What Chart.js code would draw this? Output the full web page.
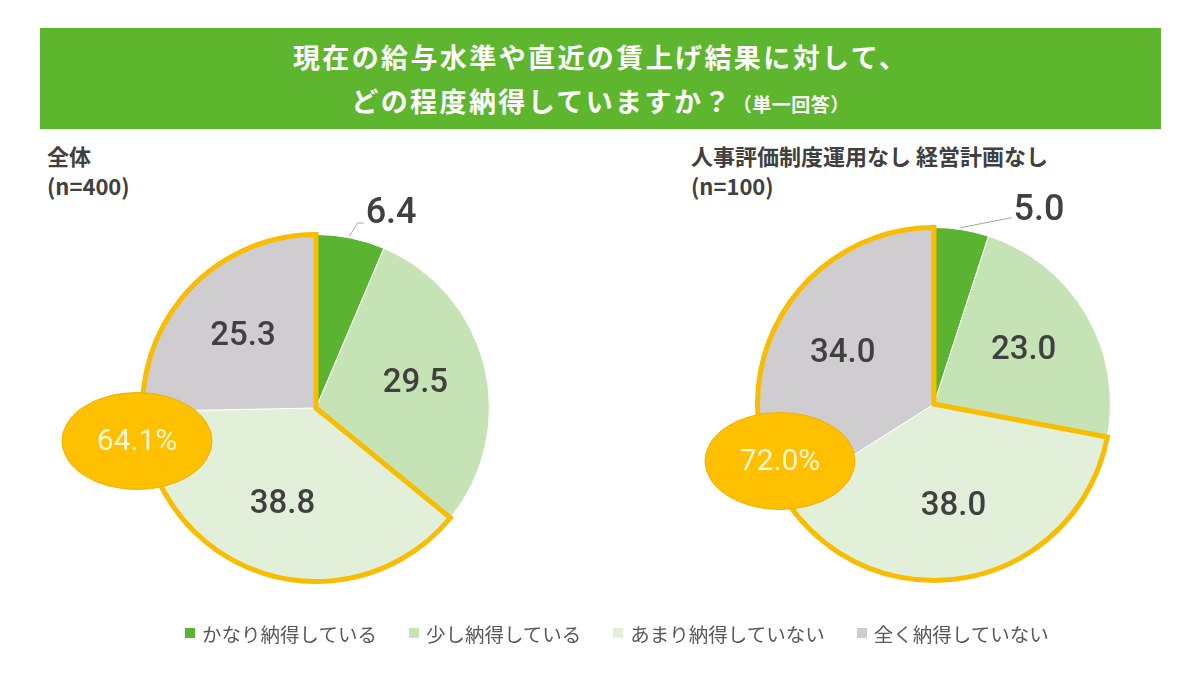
<!DOCTYPE html>
<html>
<head>
<meta charset="utf-8">
<script src="https://cdn.jsdelivr.net/npm/chart.js@4.4.1/dist/chart.umd.min.js"></script>
<style>
  html, body { margin: 0; padding: 0; }
  body { width: 1200px; height: 675px; background: #ffffff; position: relative; overflow: hidden;
         font-family: "Noto Sans CJK JP", "Noto Sans", sans-serif; }
  #banner { position: absolute; left: 40px; top: 28px; width: 1121px; height: 101px; background: #5DB62E;
            color: #ffffff; font-weight: bold; text-align: center; }
  #banner .l1 { position: absolute; left: 0; right: 0; top: 28px; line-height: 1; font-size: 27px; letter-spacing: 2.4px; transform: translateY(-50%); }
  #banner .l2 { position: absolute; left: 0; right: 0; top: 72px; line-height: 1; font-size: 27px; letter-spacing: 2.4px; transform: translateY(-50%); }
  #banner .small { font-size: 19px; letter-spacing: 0.5px; }
  .sub { position: absolute; top: 140px; color: #404040; font-size: 22px; font-weight: bold; line-height: 30px; white-space: nowrap; }
  canvas { position: absolute; left: 0; top: 0; }
  #legend { position: absolute; left: 185px; top: 620px; height: 26px; display: flex; align-items: center;
            font-size: 19.5px; color: #595959; white-space: nowrap; }
  #legend .item { display: flex; align-items: center; margin-right: 32px; }
  #legend .sw { width: 10px; height: 10px; margin-right: 7px; }
</style>
</head>
<body>
<div id="banner">
  <div class="l1">現在の給与水準や直近の賃上げ結果に対して、</div>
  <div class="l2">どの程度納得していますか？<span class="small">（単一回答）</span></div>
</div>
<div class="sub" id="sub1" style="left:47px;"></div>
<div class="sub" id="sub2" style="left:691px;"></div>
<canvas id="c1" width="1200" height="675"></canvas>
<canvas id="c2" width="1200" height="675"></canvas>
<div id="legend"></div>
<script>
// ---- data ----
const categories = ['かなり納得している', '少し納得している', 'あまり納得していない', '全く納得していない'];
const valuesAll = [6.4, 29.5, 38.8, 25.3];
const valuesNoSystem = [5.0, 23.0, 38.0, 34.0];
const groupTitles = ['全体', '人事評価制度運用なし 経営計画なし'];
const groupSizes = ['(n=400)', '(n=100)'];
const highlightIdx = [2, 3];  // slices grouped by the orange outline

// ---- styles ----
const sliceColors = ['#5BB431', '#C5E3B4', '#E2F0D9', '#CFCDCF'];
const outlineColor = '#F8BC00';
const textColor = '#404040';

document.getElementById('sub1').innerHTML = groupTitles[0] + '<br>' + groupSizes[0];
document.getElementById('sub2').innerHTML = groupTitles[1] + '<br>' + groupSizes[1];

const legend = document.getElementById('legend');
categories.forEach((c, i) => {
  const it = document.createElement('div');
  it.className = 'item';
  const sw = document.createElement('span');
  sw.className = 'sw';
  sw.style.background = sliceColors[i];
  const tx = document.createElement('span');
  tx.textContent = c;
  it.appendChild(sw); it.appendChild(tx);
  legend.appendChild(it);
});

const overlayPlugin = {
  id: 'overlay',
  afterDatasetsDraw(chart, args, opts) {
    const ctx = chart.ctx;
    const meta = chart.getDatasetMeta(0);
    const arcs = meta.data;
    const data = chart.data.datasets[0].data;
    const first = arcs[highlightIdx[0]];
    const last = arcs[highlightIdx[highlightIdx.length - 1]];
    const p = first.getProps(['x', 'y', 'outerRadius'], true);
    const cx = p.x, cy = p.y, r = p.outerRadius;

    ctx.save();
    // orange outline around the "not satisfied" group
    ctx.beginPath();
    ctx.moveTo(cx, cy);
    ctx.arc(cx, cy, r, first.startAngle, last.endAngle);
    ctx.closePath();
    ctx.lineWidth = 5;
    ctx.lineJoin = 'miter';
    ctx.strokeStyle = outlineColor;
    ctx.stroke();

    // value labels
    arcs.forEach((arc, i) => {
      const v = data[i];
      const mid = (arc.startAngle + arc.endAngle) / 2;
      const txt = v.toFixed(1);
      if (v < 8) {
        const ax = cx + Math.cos(mid) * r;
        const ay = cy + Math.sin(mid) * r;
        const ex = ax + opts.lead.dx, ey = ay + opts.lead.dy;
        ctx.beginPath();
        ctx.moveTo(ax - 1, ay - 2);
        ctx.lineTo(ex, ey);
        ctx.lineTo(ex + opts.lead.h, ey);
        ctx.lineWidth = 1;
        ctx.strokeStyle = '#A6A6A6';
        ctx.stroke();
        ctx.fillStyle = textColor;
        ctx.font = '500 36px Roboto';
        ctx.textAlign = 'left';
        ctx.textBaseline = 'alphabetic';
        ctx.fillText(txt, ex + opts.lead.h + 2, ey + opts.lead.ty);
      } else {
        const lr = r * 0.59;
        ctx.fillStyle = textColor;
        ctx.font = '500 33px Roboto';
        ctx.textAlign = 'center';
        ctx.textBaseline = 'middle';
        ctx.fillText(txt, cx + Math.cos(mid) * lr, cy + Math.sin(mid) * lr);
      }
    });

    // ellipse badge with the combined share
    const total = highlightIdx.reduce((s, k) => s + data[k], 0);
    const ex = cx + opts.badge.dx, ey = cy + opts.badge.dy;
    ctx.beginPath();
    ctx.ellipse(ex, ey, 75, 48.5, 0, 0, Math.PI * 2);
    ctx.fillStyle = '#FFC000';
    ctx.fill();
    ctx.lineWidth = 1;
    ctx.strokeStyle = '#ECB000';
    ctx.stroke();
    ctx.fillStyle = '#FFF6D8';
    ctx.font = '400 30px Roboto';
    ctx.textAlign = 'center';
    ctx.textBaseline = 'middle';
    ctx.fillText(total.toFixed(1) + '%', ex, ey + 1);
    ctx.restore();
  }
};

function makePie(id, values, padding, overlayOpts) {
  return new Chart(document.getElementById(id), {
    type: 'pie',
    data: {
      labels: categories,
      datasets: [{
        data: values,
        backgroundColor: sliceColors,
        borderColor: '#ffffff',
        borderWidth: 1
      }]
    },
    options: {
      responsive: false,
      animation: false,
      devicePixelRatio: 1,
      layout: { padding: padding },
      plugins: {
        legend: { display: false },
        tooltip: { enabled: false },
        overlay: overlayOpts
      }
    },
    plugins: [overlayPlugin]
  });
}

makePie('c1', valuesAll, { left: 142, right: 1200 - 490, top: 234, bottom: 675 - 582 },
  { lead: { dx: 7, dy: -15, h: 6, ty: 0 }, badge: { dx: -179, dy: 33 } });
makePie('c2', valuesNoSystem, { left: 757, right: 1200 - 1111, top: 227, bottom: 675 - 581 },
  { lead: { dx: 50, dy: -12, h: 0, ty: 2 }, badge: { dx: -154, dy: 57 } });
</script>
</body>
</html>
